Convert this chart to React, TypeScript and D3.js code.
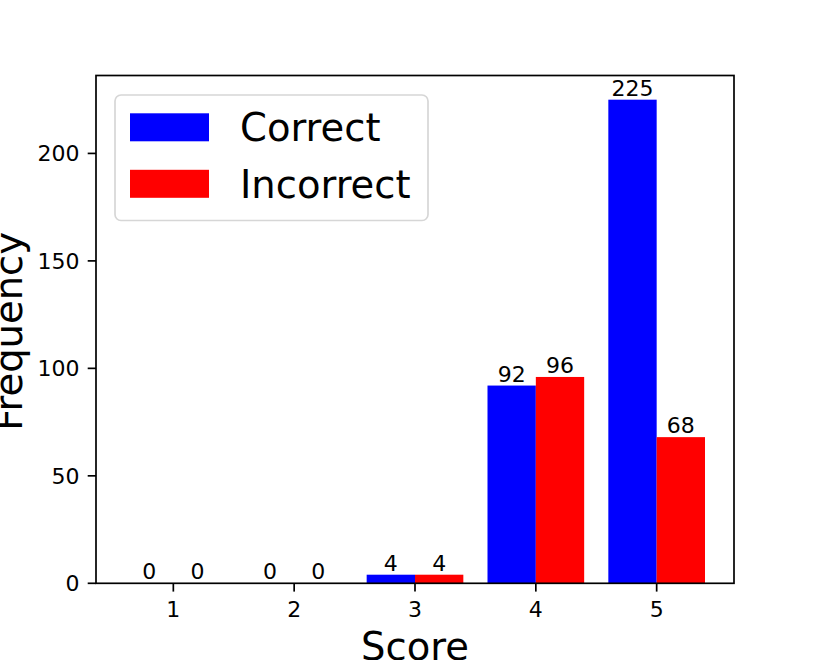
import React, { useEffect, useRef } from 'react';
import * as d3 from 'd3';

const scores = [1, 2, 3, 4, 5];
const correctCounts = [0, 0, 4, 92, 225];
const incorrectCounts = [0, 0, 4, 96, 68];
const yTicks = [0, 50, 100, 150, 200];
const seriesNames = ['Correct', 'Incorrect'];
const seriesColors = ['#0000ff', '#ff0000'];

const width = 830;
const height = 660;
const font = '"DejaVu Sans", sans-serif';

export default function App() {
    const svgRef = useRef<SVGSVGElement>(null);

    useEffect(() => {
        const svg = d3.select(svgRef.current);
        svg.selectAll('*').remove();

        const left = 96, right = 734, top = 75.5, bottom = 583.3;
        const barW = 0.4;

        const x = d3.scaleLinear().domain([0.36, 5.64]).range([left, right]);
        const y = d3.scaleLinear().domain([0, 236.25]).range([bottom, top]);

        const g = svg.append('g');

        // bars + value labels
        const series = [correctCounts, incorrectCounts];
        series.forEach((vals, si) => {
            const off = si === 0 ? -barW : 0;
            g.selectAll(null)
                .data(scores)
                .enter()
                .append('rect')
                .attr('x', (d) => x(d + off))
                .attr('width', x(barW) - x(0))
                .attr('y', (d, i) => y(vals[i]))
                .attr('height', (d, i) => y(0) - y(vals[i]))
                .attr('fill', seriesColors[si]);

            g.selectAll(null)
                .data(scores)
                .enter()
                .append('text')
                .attr('x', (d) => x(d + off + barW / 2))
                .attr('y', (d, i) => y(vals[i]) - 4)
                .attr('text-anchor', 'middle')
                .attr('font-family', font)
                .attr('font-size', 22)
                .attr('fill', '#000')
                .text((d, i) => vals[i]);
        });

        // frame
        g.append('rect')
            .attr('x', left)
            .attr('y', top)
            .attr('width', right - left)
            .attr('height', bottom - top)
            .attr('fill', 'none')
            .attr('stroke', '#000')
            .attr('stroke-width', 1.7);

        // y ticks
        yTicks.forEach((t) => {
            g.append('line')
                .attr('x1', left - 8.3).attr('x2', left)
                .attr('y1', y(t)).attr('y2', y(t))
                .attr('stroke', '#000').attr('stroke-width', 1.7);
            g.append('text')
                .attr('x', left - 16.6)
                .attr('y', y(t))
                .attr('dy', '0.36em')
                .attr('text-anchor', 'end')
                .attr('font-family', font)
                .attr('font-size', 22)
                .text(t);
        });

        // x ticks
        scores.forEach((s) => {
            g.append('line')
                .attr('x1', x(s)).attr('x2', x(s))
                .attr('y1', bottom).attr('y2', bottom + 8.3)
                .attr('stroke', '#000').attr('stroke-width', 1.7);
            g.append('text')
                .attr('x', x(s))
                .attr('y', 617)
                .attr('text-anchor', 'middle')
                .attr('font-family', font)
                .attr('font-size', 22)
                .text(s);
        });

        // axis labels (cut by the edges, as in the reference)
        g.append('text')
            .attr('x', (left + right) / 2)
            .attr('y', 660)
            .attr('text-anchor', 'middle')
            .attr('font-family', font)
            .attr('font-size', 38.5)
            .text('Score');

        g.append('text')
            .attr('transform', `translate(22, ${(top + bottom) / 2 + 2}) rotate(-90)`)
            .attr('text-anchor', 'middle')
            .attr('font-family', font)
            .attr('font-size', 38.5)
            .text('Frequency');

        // legend
        const lg = g.append('g');
        lg.append('rect')
            .attr('x', 115)
            .attr('y', 95)
            .attr('width', 313)
            .attr('height', 125.5)
            .attr('rx', 6)
            .attr('fill', 'rgba(255,255,255,0.8)')
            .attr('stroke', '#d6d6d6')
            .attr('stroke-width', 1.7);

        seriesNames.forEach((name, i) => {
            const cy = 127.3 + i * 56.5;
            lg.append('rect')
                .attr('x', 130)
                .attr('y', cy - 14)
                .attr('width', 79)
                .attr('height', 28)
                .attr('fill', seriesColors[i]);
            lg.append('text')
                .attr('x', 240)
                .attr('y', cy + 14)
                .attr('font-family', font)
                .attr('font-size', 38.5)
                .text(name);
        });
    }, []);

    return (
        <svg
            ref={svgRef}
            width={width}
            height={height}
            style={{ position: 'absolute', left: 0, top: 0, background: '#fff' }}
        />
    );
}
